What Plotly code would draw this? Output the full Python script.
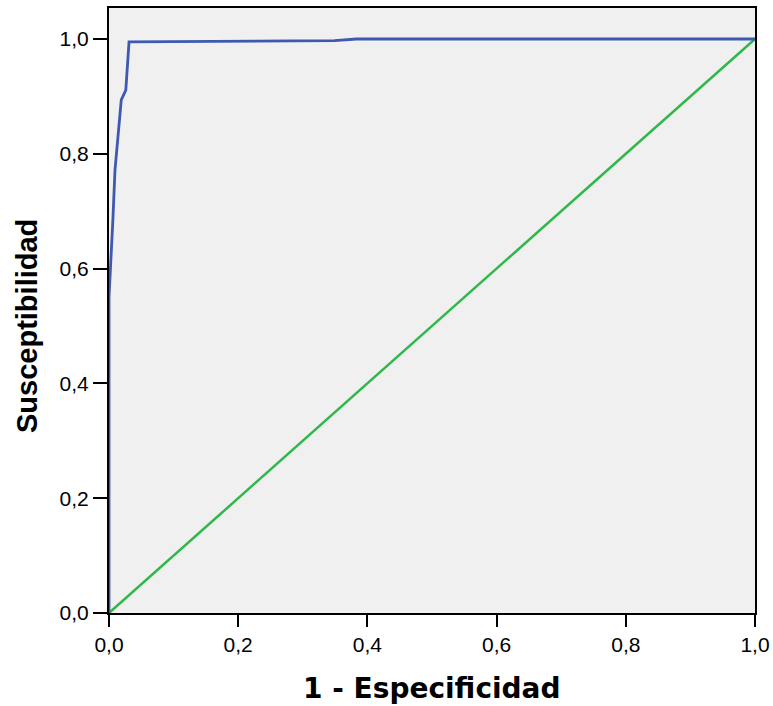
import plotly.graph_objects as go

# ROC curve points (1 - specificity, sensitivity)
roc_fpr = [0.0, 0.0, 0.006, 0.0093, 0.019, 0.026, 0.031, 0.349, 0.383, 1.0]
roc_tpr = [0.0, 0.55, 0.685, 0.772, 0.894, 0.911, 0.995, 0.997, 1.0, 1.0]
ref_x = [0.0, 1.0]
ref_y = [0.0, 1.0]
tick_vals = [0.0, 0.2, 0.4, 0.6, 0.8, 1.0]

fig = go.Figure()
fig.add_trace(go.Scatter(x=ref_x, y=ref_y, mode="lines",
                         line=dict(color="#2fb84a", width=2.5), showlegend=False))
fig.add_trace(go.Scatter(x=roc_fpr, y=roc_tpr, mode="lines",
                         line=dict(color="#3d59b0", width=2.8), showlegend=False))

fig.update_layout(
    width=773, height=706,
    margin=dict(l=109, r=18, t=8, b=93, autoexpand=False),
    paper_bgcolor="white", plot_bgcolor="#f0f0f0",
    separators=",.",
    font=dict(family="Liberation Sans, Arial, sans-serif", size=21, color="black"),
    xaxis=dict(range=[0, 1], tickvals=tick_vals, tickformat=".1f", automargin=False,
               showgrid=False, zeroline=False, showline=True, linecolor="black",
               linewidth=2, mirror=True, ticks="outside", ticklen=12, tickwidth=2,
               tickcolor="black"),
    yaxis=dict(range=[0, 1.054], tickvals=tick_vals, tickformat=".1f", automargin=False,
               showgrid=False, zeroline=False, showline=True, linecolor="black",
               linewidth=2, mirror=True, ticks="outside", ticklen=14, tickwidth=2,
               tickcolor="black"),
    annotations=[
        dict(text="<b>1 - Especificidad</b>", xref="paper", yref="paper",
             x=0.5, y=0, yshift=-75, xanchor="center", yanchor="middle",
             showarrow=False,
             font=dict(size=28, family="DejaVu Sans, sans-serif")),
        dict(text="<b>Susceptibilidad</b>", xref="paper", yref="y",
             x=0, y=0.5, xshift=-82, xanchor="center", yanchor="middle",
             textangle=-90, showarrow=False,
             font=dict(size=29, family="Liberation Sans, Arial, sans-serif")),
    ],
)

fig.write_html("out.html")
